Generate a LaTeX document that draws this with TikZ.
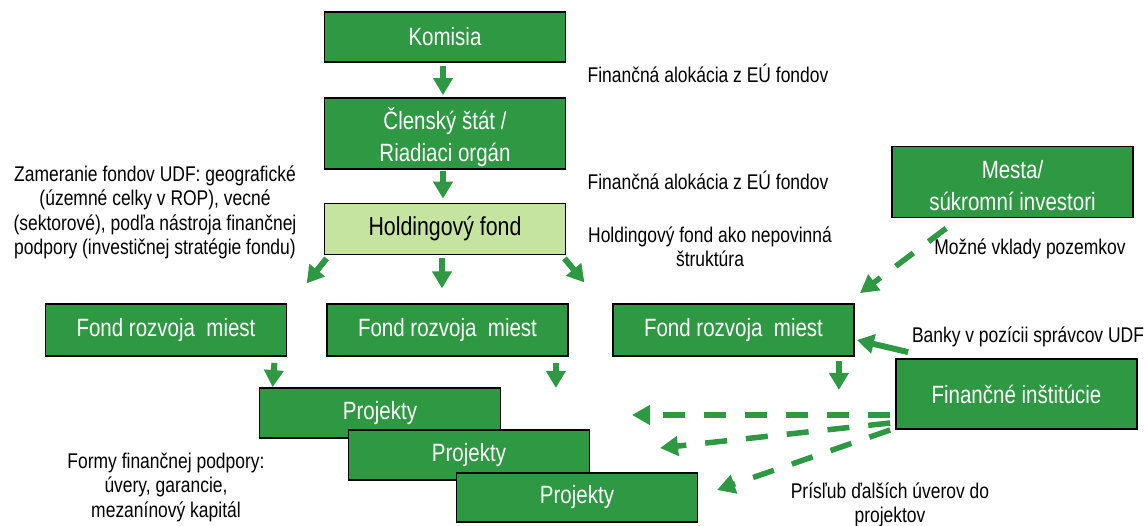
\documentclass[tikz,border=0pt]{standalone}
\usepackage{fontspec}
\setmainfont[FakeStretch=0.82]{Liberation Sans}
\usetikzlibrary{arrows.meta}
\definecolor{fundgreen}{RGB}{46,152,67}
\definecolor{holdgreen}{RGB}{197,228,160}
\begin{document}
\begin{tikzpicture}[x=1pt,y=-1pt,
  box/.style={draw=black, line width=1.8pt, fill=fundgreen, text=white,
    minimum width=241pt, inner sep=0pt, align=center,
    font=\fontsize{25}{32}\selectfont},
  lbl/.style={align=center, inner sep=0pt, font=\fontsize{21.3}{24.5}\selectfont},
  flow/.style={draw=fundgreen, line width=6pt,
    -{Triangle[length=17pt,width=19pt]}},
  dflow/.style={draw=fundgreen, line width=5.5pt, dash pattern=on 22pt off 19pt,
    -{Triangle[length=18pt,width=19pt]}}]
\useasboundingbox (0,0) rectangle (1148,526);

% main chain
\node[box, minimum height=50pt] (kom) at (445,37) {Komisia};
\node[box, minimum height=71pt] (cs) at (445,133.5) {\rule{0pt}{29pt}Členský štát /\\Riadiaci orgán};
\node[box, fill=holdgreen, text=black, minimum height=51pt,
  font=\fontsize{26}{32}\selectfont] (hf) at (445,229) {Holdingový fond};

% urban development funds
\node[box, minimum height=52pt] (f1) at (166,330) {Fond rozvoja\ \ miest};
\node[box, minimum height=52pt] (f2) at (447.5,330) {Fond rozvoja\ \ miest};
\node[box, minimum height=52pt] (f3) at (733.5,330) {Fond rozvoja\ \ miest};

% projects, stacked
\node[box, minimum height=50pt] (p1) at (380,413) {Projekty};
\node[box, minimum height=50pt] (p2) at (469,455) {Projekty};
\node[box, minimum height=49pt] (p3) at (577,497.5) {Projekty};

% other participants
\node[box, minimum height=71pt] (ms) at (1012.5,182) {\rule{0pt}{25pt}Mesta/\\súkromní investori};
\node[box, minimum height=70pt] (fi) at (1016.5,394) {Finančné inštitúcie};

% annotations
\node[lbl] (alloc1) at (708,73) {Finančná alokácia z EÚ fondov};
\node[lbl] (alloc2) at (708,180) {Finančná alokácia z EÚ fondov};
\node[lbl] (focus) at (155,212.5) {Zameranie fondov UDF: geografické\\(územné celky v ROP), vecné\\(sektorové), podľa nástroja finančnej\\podpory (investičnej stratégie fondu)};
\node[lbl] (optional) at (710,247) {Holdingový fond ako nepovinná\\štruktúra};
\node[lbl] (land) at (1030,249) {Možné vklady pozemkov};
\node[lbl] (banks) at (1028,337) {Banky v pozícii správcov UDF};
\node[lbl] (forms) at (166,487) {Formy finančnej podpory:\\úvery, garancie,\\mezanínový kapitál};
\node[lbl] (promise) at (890,505) {Prísľub ďalších úverov do\\projektov};

% solid flows
\draw[flow] ([shift={(-2pt,-3pt)}]kom.south) -- ([shift={(-2pt,2pt)}]cs.north);
\draw[flow] ([shift={(-2pt,-1pt)}]cs.south) -- ([shift={(-2pt,4pt)}]hf.north);
\draw[flow] ([shift={(3pt,-3pt)}]hf.south west) -- ([shift={(-17pt,-28pt)}]hf.south west);
\draw[flow] ([shift={(-3pt,-3pt)}]hf.south) -- ([shift={(-3pt,-33pt)}]hf.south);
\draw[flow] ([shift={(-2pt,-3pt)}]hf.south east) -- ([shift={(18pt,-27pt)}]hf.south east);
\draw[flow] ([shift={(-13pt,-6pt)}]f1.south east) -- ([xshift=14pt]p1.north west);
\draw[flow] ([shift={(-13pt,-6pt)}]f2.south east) -- ([shift={(-13pt,-31pt)}]f2.south east);
\draw[flow] ([shift={(-16pt,-4pt)}]f3.south east) -- ([shift={(-16pt,-33pt)}]f3.south east);
\draw[flow] ([shift={(13pt,6pt)}]fi.north west) -- ([shift={(2pt,-10pt)}]f3.east);

% dashed flows
\draw[dflow] ([shift={(55pt,-10pt)}]ms.south west) -- ([shift={(5pt,10pt)}]f3.north east);
\coordinate (t1) at (632,415);
\coordinate (t2) at (660,448);
\coordinate (t3) at (717,490);
\draw[dflow] ([shift={(-5pt,-21pt)}]fi.west) -- (t1);
\draw[dflow] ([shift={(-5pt,-29pt)}]fi.west) -- (t2);
\draw[dflow] ([shift={(-5pt,-36pt)}]fi.west) -- (t3);
\end{tikzpicture}
\end{document}
